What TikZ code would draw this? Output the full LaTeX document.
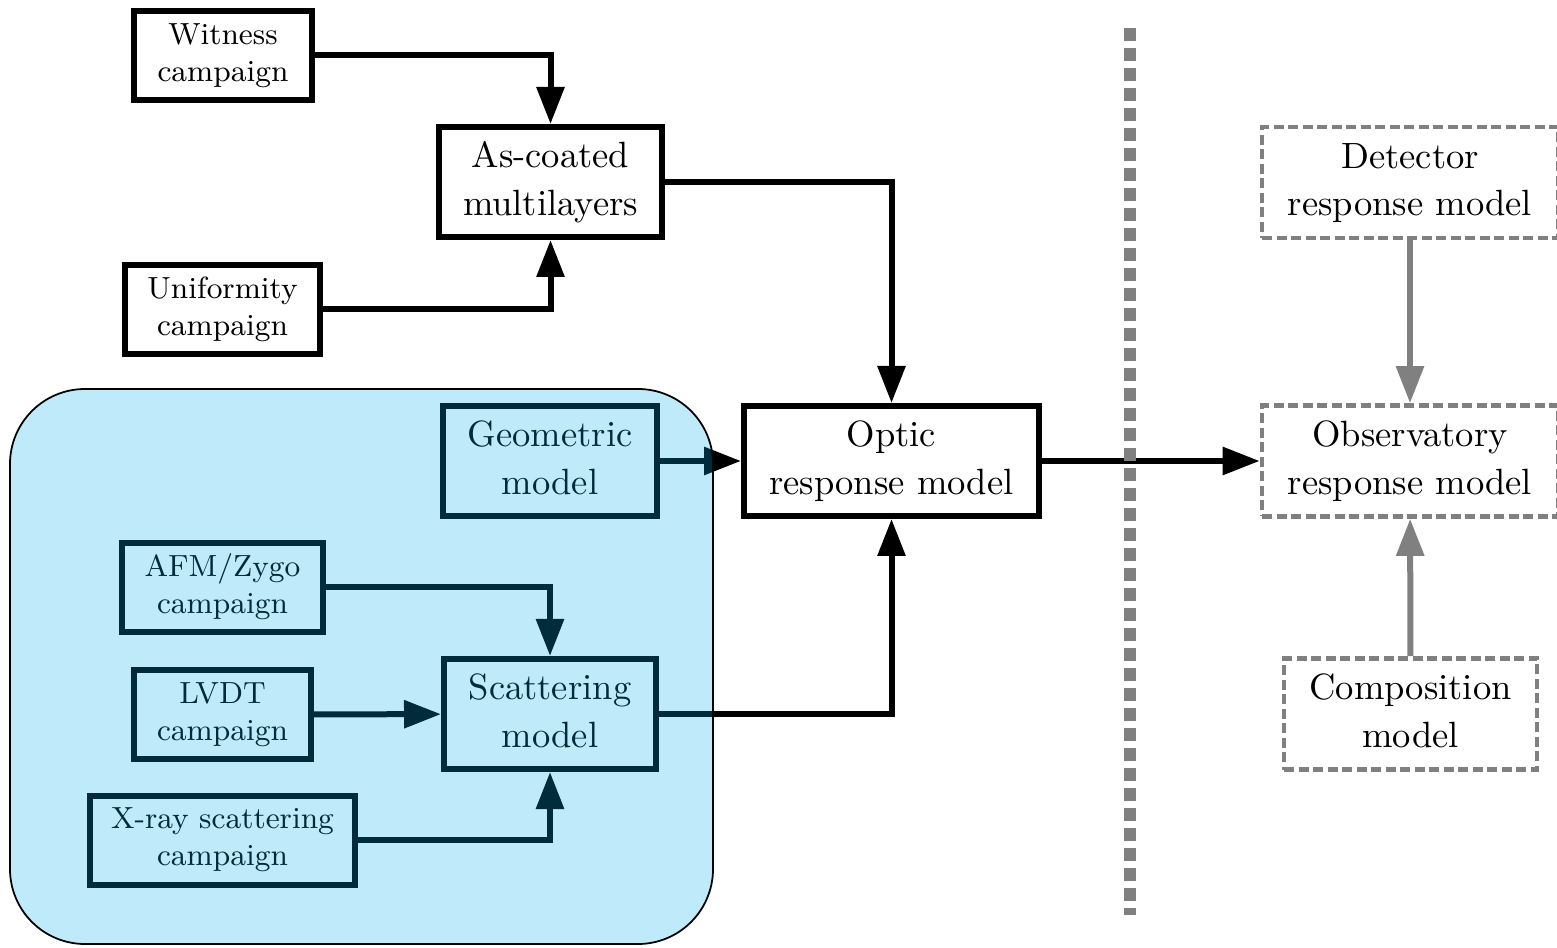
\documentclass[tikz,border=0pt]{standalone}
\usetikzlibrary{arrows.meta}
\definecolor{skyfill}{RGB}{0,172,236}
\newcommand{\smalltext}{\fontsize{8.7}{10.5}\selectfont}
\newcommand{\bigtext}{\fontsize{10.4}{13.6}\selectfont}
\begin{document}
\begin{tikzpicture}[
	campaign/.style={draw, line width=0.06cm, inner sep=0pt, minimum height=0.89cm, font=\smalltext},
	model/.style={draw, line width=0.06cm, inner sep=0pt, minimum height=1.10cm, font=\bigtext},
	future/.style={draw=gray, line width=0.047cm, dash pattern=on 0.10cm off 0.045cm, inner sep=0pt, minimum height=1.11cm, font=\bigtext},
	flow/.style={-{Triangle[length=0.37cm,width=0.27cm]}, line width=0.06cm},
	grayflow/.style={flow, gray}]
	\useasboundingbox (0,0) rectangle (15.57,9.47);
%	\draw[help lines] (0,0) grid (15,9);
	\node[campaign, minimum width=1.78cm] (witness) at (2.23,8.915) {\begin{tabular}{c} Witness \\ campaign \end{tabular}};
	\node[model, minimum width=2.23cm] (coated) at (5.505,7.65) {\begin{tabular}{c} As-coated \\ multilayers \end{tabular}};
	\node[campaign, minimum width=1.95cm] (uniformity) at (2.225,6.375) {\begin{tabular}{c} Uniformity \\ campaign \end{tabular}};
	\node[model, minimum width=2.14cm] (geometric) at (5.50,4.86) {\begin{tabular}{c} Geometric \\ model \end{tabular}};
	\node[model, minimum width=2.95cm] (optic) at (8.915,4.86) {\begin{tabular}{c} Optic \\ response model \end{tabular}};
	\node[campaign, minimum width=2.01cm] (afm) at (2.225,3.595) {\begin{tabular}{c} AFM/Zygo \\ campaign \end{tabular}};
	\node[campaign, minimum width=1.77cm] (lvdt) at (2.225,2.325) {\begin{tabular}{c} LVDT \\ campaign \end{tabular}};
	\node[model, minimum width=2.12cm] (scattering) at (5.50,2.33) {\begin{tabular}{c} Scattering \\ model \end{tabular}};
	\node[campaign, minimum width=2.65cm] (xray) at (2.225,1.07) {\begin{tabular}{c} X-ray scattering \\ campaign \end{tabular}};
	\node[future, minimum width=2.96cm] (detector) at (14.10,7.645) {\begin{tabular}{c} Detector \\ response model \end{tabular}};
	\node[future, minimum width=2.96cm] (observatory) at (14.10,4.86) {\begin{tabular}{c} Observatory \\ response model \end{tabular}};
	\node[future, minimum width=2.53cm] (composition) at (14.105,2.33) {\begin{tabular}{c} Composition \\ model \end{tabular}};
	\draw[flow] (witness) -| (coated);
	\draw[flow] (uniformity) -| (coated);
	\draw[flow] (coated) -| (optic);
	\draw[flow] (geometric) -- (optic);
	\draw[flow] (afm) -| (scattering);
	\draw[flow] (lvdt) -- (scattering);
	\draw[flow] (xray) -| (scattering);
	\draw[flow] (scattering) -| (optic);
	\draw[flow] (optic) -- (observatory);
	\draw[grayflow] (detector) -- (observatory);
	\draw[grayflow] (composition) -- (observatory);
	\draw[gray, line width=0.12cm, dash pattern=on 0.13cm off 0.07cm] (11.30,9.19) -- (11.30,0.32);
	\draw[fill=skyfill, fill opacity=0.25, line width=0.5pt, rounded corners=0.75cm] (0.10,0.03) rectangle (7.13,5.58);
\end{tikzpicture}
\end{document}
